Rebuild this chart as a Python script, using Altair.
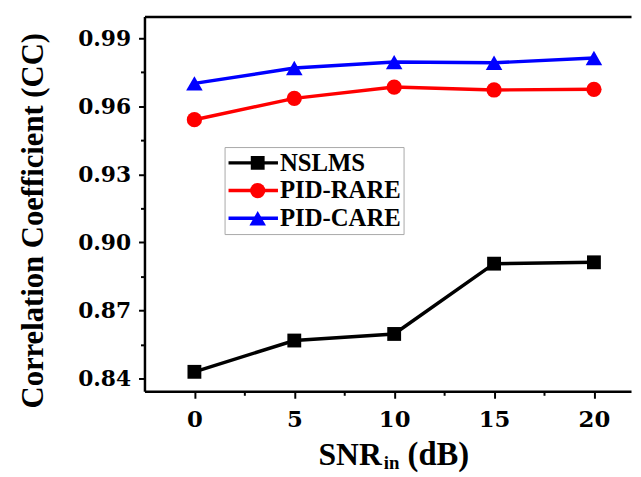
import altair as alt
import pandas as pd

snr = [0, 5, 10, 15, 20]
series_names = ["NSLMS", "PID-RARE", "PID-CARE"]
nslms = [0.8429, 0.8567, 0.8596, 0.8906, 0.8912]
pid_rare = [0.9541, 0.9635, 0.9685, 0.9672, 0.9675]
pid_care = [0.9701, 0.9769, 0.9795, 0.9792, 0.9813]
colors = ["#000000", "#ff0000", "#0000ff"]
marker_shapes = ["square", "circle", "triangle-up"]
marker_sizes = [196, 280, 324]
x_major = [0, 5, 10, 15, 20]
x_minor = [2.5, 7.5, 12.5, 17.5]
y_major = [0.84, 0.87, 0.90, 0.93, 0.96, 0.99]
y_minor = [0.855, 0.885, 0.915, 0.945, 0.975]

rows = []
for name, vals in zip(series_names, [nslms, pid_rare, pid_care]):
    for xv, yv in zip(snr, vals):
        rows.append({"snr": xv, "cc": yv, "series": name})
df = pd.DataFrame(rows)

W, H = 492, 379
xscale = alt.Scale(domain=[-2.5, -2.5 + W / 20.2], nice=False, zero=False)
yscale = alt.Scale(domain=[0.8343, 0.9996], nice=False, zero=False)
cscale = alt.Scale(domain=series_names, range=colors)

LABEL_FONT = "DejaVu Serif"
TITLE_FONT = "Liberation Serif"
LEG_X, LEG_Y = 81, 132

base = alt.Chart(df)

# lines (their legend draws the line part of each key)
lines = base.mark_line(strokeWidth=3.5).encode(
    x=alt.X("snr:Q", scale=xscale, axis=alt.Axis(
        values=x_major, title=None, grid=False, tickSize=7, tickWidth=2,
        domainWidth=2.5, domainColor="black", tickColor="black",
        labelFont=LABEL_FONT, labelFontWeight="bold", labelFontSize=23,
        labelColor="black", labelPadding=11, orient="bottom")),
    y=alt.Y("cc:Q", scale=yscale, axis=alt.Axis(
        values=y_major, format=".2f", grid=False, tickSize=6, tickWidth=2,
        domainWidth=2.5, domainColor="black", tickColor="black",
        labelFont=LABEL_FONT, labelFontWeight="bold", labelFontSize=22,
        labelColor="black", labelPadding=8, orient="left",
        title="Correlation Coefficient (CC)", titleFont=TITLE_FONT,
        titleFontSize=31, titleFontWeight="bold", titleColor="black",
        titleAngle=270, titleX=-103, titleY=206, titleAlign="center",
        titleBaseline="alphabetic")),
    stroke=alt.Stroke("series:N", sort=series_names, scale=alt.Scale(range=colors),
        legend=alt.Legend(
            title=None, orient="none", legendX=LEG_X, legendY=LEG_Y,
            symbolType="stroke", symbolSize=2500, symbolStrokeWidth=3.5,
            clipHeight=28, rowPadding=0, padding=2, labelOffset=0,
            labelFont=TITLE_FONT, labelFontSize=25, labelFontWeight="bold",
            labelColor="black", strokeColor="#a8a8a8")),
    order="snr:Q",
)

# markers (their legend draws the marker part of each key, over the lines)
mleg = alt.Legend(
    title=None, orient="none", legendX=LEG_X + 19, legendY=LEG_Y,
    symbolSize=200, symbolStrokeWidth=0, symbolOpacity=1,
    clipHeight=28, rowPadding=0, padding=2, labelOffset=0,
    labelExpr="''", labelFontSize=25, zindex=2)

points = base.mark_point(filled=True, opacity=1).encode(
    x=alt.X("snr:Q", scale=xscale, axis=alt.Axis(
        orient="top", ticks=False, labels=False, grid=False,
        title=None, domainWidth=2.5, domainColor="black")),
    y=alt.Y("cc:Q", scale=yscale, axis=None),
    color=alt.Color("series:N", scale=cscale, legend=mleg),
    shape=alt.Shape("series:N", scale=alt.Scale(domain=series_names, range=marker_shapes), legend=mleg),
    size=alt.Size("series:N", scale=alt.Scale(domain=series_names, range=marker_sizes), legend=None),
)

# minor ticks only (no marks drawn)
minor = base.transform_filter("false").mark_point().encode(
    x=alt.X("snr:Q", scale=xscale, axis=alt.Axis(
        orient="bottom", values=x_minor, labels=False, domain=False, grid=False,
        title=None, tickSize=4, tickWidth=2, tickColor="black")),
    y=alt.Y("cc:Q", scale=yscale, axis=alt.Axis(
        orient="left", values=y_minor, labels=False, domain=False, grid=False,
        title=None, tickSize=4, tickWidth=2, tickColor="black")),
)

title_parts = ["SNR", "in", "(dB)"]
t_snr = alt.Chart(pd.DataFrame({"t": [title_parts[0]]})).mark_text(
    font=TITLE_FONT, fontSize=32, fontWeight="bold", align="left",
    baseline="alphabetic", color="black").encode(
    text="t:N", x=alt.value(176), y=alt.value(453))
t_in = alt.Chart(pd.DataFrame({"t": [title_parts[1]]})).mark_text(
    font=TITLE_FONT, fontSize=19, fontWeight="bold", align="left",
    baseline="alphabetic", color="black").encode(
    text="t:N", x=alt.value(242), y=alt.value(458))
t_db = alt.Chart(pd.DataFrame({"t": [title_parts[2]]})).mark_text(
    font=TITLE_FONT, fontSize=33, fontWeight="bold", align="left",
    baseline="alphabetic", color="black").encode(
    text="t:N", x=alt.value(266), y=alt.value(453))

chart = alt.layer(lines, points, minor, t_snr, t_in, t_db).resolve_axis(
    x="independent", y="independent"
).properties(
    width=W, height=H,
    autosize=alt.AutoSizeParams(type="none"),
    padding={"left": 138, "top": 6, "right": 2, "bottom": 82},
).configure_view(stroke=None)

chart.save("out.html", embed_options={"renderer": "svg", "actions": False})
